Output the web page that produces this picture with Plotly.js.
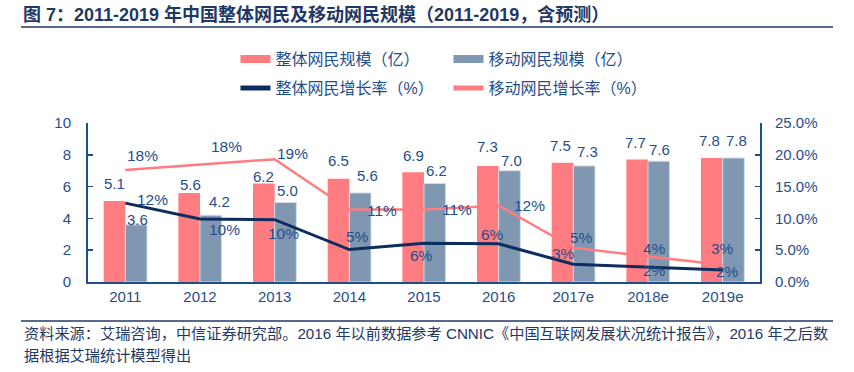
<!DOCTYPE html>
<html>
<head>
<meta charset="utf-8">
<script src="https://cdn.plot.ly/plotly-3.0.1.min.js"></script>
<style>
  html, body { margin: 0; padding: 0; background: #ffffff; }
  #chart { width: 854px; height: 372px; }
</style>
</head>
<body>
<div id="chart"></div>
<script>
// ---- data ----
const years = ['2011', '2012', '2013', '2014', '2015', '2016', '2017e', '2018e', '2019e'];
const totalUsers = [5.1, 5.6, 6.2, 6.5, 6.9, 7.3, 7.5, 7.7, 7.8];        // 整体网民规模（亿）
const mobileUsers = [3.6, 4.2, 5.0, 5.6, 6.2, 7.0, 7.3, 7.6, 7.8];       // 移动网民规模（亿）
const totalGrowth = [0.124, 0.099, 0.098, 0.051, 0.061, 0.060, 0.028, 0.023, 0.019];  // 整体网民增长率
const mobileGrowth = [0.176, 0.184, 0.193, 0.114, 0.114, 0.120, 0.054, 0.040, 0.027]; // 移动网民增长率
const seriesNames = ['整体网民规模（亿）', '移动网民规模（亿）', '整体网民增长率（%）', '移动网民增长率（%）'];
const titleText = '图 7：2011-2019 年中国整体网民及移动网民规模（2011-2019，含预测）';
const noteLines = [
  '资料来源：艾瑞咨询，中信证券研究部。2016 年以前数据参考 CNNIC《中国互联网发展状况统计报告》，2016 年之后数',
  '据根据艾瑞统计模型得出'
];

// ---- label nudges (pixels; style only) ----
const totalLabelNudge = [[27.5,-3.7],[24,10],[9,14],[7.7,-13.5],[-2.5,12.5],[-6,-9],[-9.7,-11],[6.3,3.5],[5.3,1.7]];
const mobileLabelNudge = [[17.5,-15],[26.7,-18.3],[18,-6],[32.8,0.7],[32.8,0.4],[31.2,0],[8.3,-10.3],[6.2,-7.7],[-0.5,-16.7]];
const totalBarLabelRaise = [17.7, 8.7, 6.7, 17.7, 17, 19.3, 17.7, 17, 17.2];
const mobileBarLabelRaise = [5, 13.5, 11.7, 17, 13.4, 10.2, 14.7, 12, 17.2];
const totalBarLabelSide = [0, 1, 0, 0, 0, 0, -2, -2, -2];
const mobileBarLabelSide = [1, 9, 2, 7.5, 2, 2.5, 3, 1, 3];

// ---- styles ----
const FONT = '"Liberation Sans", Arial, "Noto Sans CJK SC", sans-serif';
const CJK = '"Liberation Sans", Arial, "Noto Sans CJK SC", sans-serif';
const pink = '#FF7C80';
const gray = '#8097B1';
const navy = '#0C2D5E';
const axisColor = '#1F4E8C';
const textBlue = '#1F4E8C';
const titleColor = '#1F3864';
const bargap = 0.42;
const barHalfOffset = (1 - bargap) / 4;

const traces = [
  { type: 'bar', name: seriesNames[0], x: years, y: totalUsers, marker: { color: pink },
    showlegend: false, hoverinfo: 'skip' },
  { type: 'bar', name: seriesNames[1], x: years, y: mobileUsers,
    marker: { color: gray, line: { color: '#D5DDE6', width: 1 } },
    showlegend: false, hoverinfo: 'skip' },
  { type: 'scatter', mode: 'lines', name: seriesNames[2], x: years, y: totalGrowth, yaxis: 'y2',
    line: { color: navy, width: 3 }, showlegend: false, hoverinfo: 'skip' },
  { type: 'scatter', mode: 'lines', name: seriesNames[3], x: years, y: mobileGrowth, yaxis: 'y2',
    line: { color: pink, width: 2.5 }, showlegend: false, hoverinfo: 'skip' },
  // legend swatches
  { type: 'scatter', mode: 'lines', name: seriesNames[0], x: [null], y: [null], line: { color: pink, width: 8 }, legend: 'legend' },
  { type: 'scatter', mode: 'lines', name: seriesNames[1], x: [null], y: [null], line: { color: gray, width: 8 }, legend: 'legend' },
  { type: 'scatter', mode: 'lines', name: seriesNames[2], x: [null], y: [null], line: { color: navy, width: 5 }, legend: 'legend2' },
  { type: 'scatter', mode: 'lines', name: seriesNames[3], x: [null], y: [null], line: { color: pink, width: 5 }, legend: 'legend2' }
];

const annotations = [];
const pct = v => Math.round(v * 100) + '%';
years.forEach((yr, i) => {
  annotations.push({ x: i - barHalfOffset, y: totalUsers[i], xref: 'x', yref: 'y', text: totalUsers[i].toFixed(1),
    showarrow: false, xshift: totalBarLabelSide[i], yshift: totalBarLabelRaise[i], xanchor: 'center', yanchor: 'middle',
    font: { family: FONT, size: 15, color: textBlue } });
  annotations.push({ x: i + barHalfOffset, y: mobileUsers[i], xref: 'x', yref: 'y', text: mobileUsers[i].toFixed(1),
    showarrow: false, xshift: mobileBarLabelSide[i], yshift: mobileBarLabelRaise[i], xanchor: 'center', yanchor: 'middle',
    font: { family: FONT, size: 15, color: textBlue } });
  annotations.push({ x: i, y: totalGrowth[i], xref: 'x', yref: 'y2', text: pct(totalGrowth[i]),
    showarrow: false, xshift: totalLabelNudge[i][0], yshift: -totalLabelNudge[i][1],
    xanchor: 'center', yanchor: 'middle', font: { family: FONT, size: 15.5, color: textBlue } });
  annotations.push({ x: i, y: mobileGrowth[i], xref: 'x', yref: 'y2', text: pct(mobileGrowth[i]),
    showarrow: false, xshift: mobileLabelNudge[i][0], yshift: -mobileLabelNudge[i][1],
    xanchor: 'center', yanchor: 'middle', font: { family: FONT, size: 15.5, color: textBlue } });
});

// pixel helpers for page furniture (plot area: x 88..760, y 123..282)
const W = 854, H = 372, L = 88, R = 94, T = 123, B = 90;
const pw = W - L - R, ph = H - T - B;
const px = x => (x - L) / pw;
const py = y => (H - B - y) / ph;

noteLines.forEach((line, k) => {
  annotations.push({ xref: 'paper', yref: 'paper', x: px(22), y: py(333 + k * 22), xanchor: 'left', yanchor: 'middle',
    text: line, showarrow: false, font: { family: CJK, size: 15.2, color: titleColor } });
});

const layout = {
  width: W, height: H,
  margin: { l: L, r: R, t: T, b: B, pad: 0 },
  paper_bgcolor: '#ffffff', plot_bgcolor: '#ffffff',
  font: { family: FONT, size: 15, color: textBlue },
  title: { text: '<b>' + titleText + '</b>', xref: 'container', yref: 'container', x: 23 / W, xanchor: 'left',
    y: 1 - 15 / H, yanchor: 'middle', font: { family: CJK, size: 18, color: titleColor } },
  barmode: 'group', bargap: bargap, bargroupgap: 0,
  showlegend: true,
  legend: { orientation: 'h', x: px(235.5), xanchor: 'left', y: py(59), yanchor: 'middle',
    entrywidth: 168, entrywidthmode: 'pixels', font: { family: CJK, size: 16, color: textBlue },
    bgcolor: 'rgba(0,0,0,0)', borderwidth: 0, traceorder: 'normal' },
  legend2: { orientation: 'h', x: px(235.5), xanchor: 'left', y: py(88), yanchor: 'middle',
    entrywidth: 168, entrywidthmode: 'pixels', font: { family: CJK, size: 16, color: textBlue },
    bgcolor: 'rgba(0,0,0,0)', borderwidth: 0, traceorder: 'normal' },
  xaxis: { type: 'category', range: [-0.5, 8.5], showline: true, linecolor: axisColor, linewidth: 2,
    ticks: '', showgrid: false, zeroline: false, tickfont: { family: FONT, size: 15, color: textBlue },
    fixedrange: true },
  yaxis: { range: [0, 10], tick0: 0, dtick: 2, ticks: 'inside', ticklen: 5, tickwidth: 1.5, tickcolor: axisColor,
    showline: true, linecolor: axisColor, linewidth: 2, showgrid: false, zeroline: false,
    tickfont: { family: FONT, size: 15, color: textBlue }, ticklabelstandoff: 12, fixedrange: true },
  yaxis2: { overlaying: 'y', side: 'right', range: [0, 0.25], tick0: 0, dtick: 0.05, tickformat: '.1%',
    ticks: 'inside', ticklen: 5, tickwidth: 1.5, tickcolor: axisColor,
    showline: true, linecolor: axisColor, linewidth: 2, showgrid: false, zeroline: false,
    tickfont: { family: FONT, size: 15, color: textBlue }, ticklabelstandoff: 10, fixedrange: true },
  annotations: annotations,
  shapes: [
    { type: 'line', xref: 'paper', yref: 'paper', x0: px(21), x1: px(833), y0: py(27), y1: py(27),
      line: { color: titleColor, width: 1.5 } },
    { type: 'line', xref: 'paper', yref: 'paper', x0: px(21), x1: px(833), y0: py(321), y1: py(321),
      line: { color: titleColor, width: 1.5 } }
  ]
};

Plotly.newPlot('chart', traces, layout, { displayModeBar: false, staticPlot: true });
</script>
</body>
</html>
